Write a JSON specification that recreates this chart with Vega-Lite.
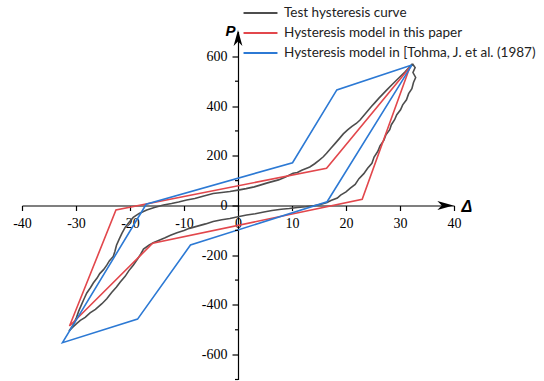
{
  "$schema": "https://vega.github.io/schema/vega-lite/v6.json",
  "width": 432,
  "height": 348,
  "autosize": {"type": "none"},
  "padding": {"left": 22, "top": 31.5, "right": 90, "bottom": 1.5},
  "background": "white",
  "config": {"view": {"stroke": null}},
  "datasets": {
    "curves": [
      {"s": "Test hysteresis curve", "i": 0, "d": 32.3, "p": 570},
      {"s": "Test hysteresis curve", "i": 1, "d": 32.8, "p": 555},
      {"s": "Test hysteresis curve", "i": 2, "d": 32.4, "p": 535},
      {"s": "Test hysteresis curve", "i": 3, "d": 32.9, "p": 515},
      {"s": "Test hysteresis curve", "i": 4, "d": 32.5, "p": 495},
      {"s": "Test hysteresis curve", "i": 5, "d": 32.2, "p": 470},
      {"s": "Test hysteresis curve", "i": 6, "d": 31.6, "p": 450},
      {"s": "Test hysteresis curve", "i": 7, "d": 31.2, "p": 425},
      {"s": "Test hysteresis curve", "i": 8, "d": 30.5, "p": 405},
      {"s": "Test hysteresis curve", "i": 9, "d": 30.1, "p": 385},
      {"s": "Test hysteresis curve", "i": 10, "d": 29.4, "p": 365},
      {"s": "Test hysteresis curve", "i": 11, "d": 29.0, "p": 345},
      {"s": "Test hysteresis curve", "i": 12, "d": 28.4, "p": 325},
      {"s": "Test hysteresis curve", "i": 13, "d": 28.1, "p": 305},
      {"s": "Test hysteresis curve", "i": 14, "d": 27.4, "p": 285},
      {"s": "Test hysteresis curve", "i": 15, "d": 27.0, "p": 262},
      {"s": "Test hysteresis curve", "i": 16, "d": 26.3, "p": 240},
      {"s": "Test hysteresis curve", "i": 17, "d": 25.9, "p": 218},
      {"s": "Test hysteresis curve", "i": 18, "d": 25.2, "p": 195},
      {"s": "Test hysteresis curve", "i": 19, "d": 24.8, "p": 170},
      {"s": "Test hysteresis curve", "i": 20, "d": 24.0, "p": 150},
      {"s": "Test hysteresis curve", "i": 21, "d": 23.3, "p": 128},
      {"s": "Test hysteresis curve", "i": 22, "d": 22.4, "p": 108},
      {"s": "Test hysteresis curve", "i": 23, "d": 21.7, "p": 85},
      {"s": "Test hysteresis curve", "i": 24, "d": 20.8, "p": 70},
      {"s": "Test hysteresis curve", "i": 25, "d": 20.0, "p": 55},
      {"s": "Test hysteresis curve", "i": 26, "d": 19.0, "p": 42},
      {"s": "Test hysteresis curve", "i": 27, "d": 18.4, "p": 30},
      {"s": "Test hysteresis curve", "i": 28, "d": 17.2, "p": 20},
      {"s": "Test hysteresis curve", "i": 29, "d": 16.5, "p": 12},
      {"s": "Test hysteresis curve", "i": 30, "d": 15.4, "p": 5},
      {"s": "Test hysteresis curve", "i": 31, "d": 14.0, "p": -1},
      {"s": "Test hysteresis curve", "i": 32, "d": 12.5, "p": -5},
      {"s": "Test hysteresis curve", "i": 33, "d": 11.0, "p": -8},
      {"s": "Test hysteresis curve", "i": 34, "d": 9.5, "p": -12},
      {"s": "Test hysteresis curve", "i": 35, "d": 8.0, "p": -15},
      {"s": "Test hysteresis curve", "i": 36, "d": 6.3, "p": -20},
      {"s": "Test hysteresis curve", "i": 37, "d": 4.8, "p": -26},
      {"s": "Test hysteresis curve", "i": 38, "d": 3.2, "p": -33},
      {"s": "Test hysteresis curve", "i": 39, "d": 1.6, "p": -38},
      {"s": "Test hysteresis curve", "i": 40, "d": 0, "p": -45},
      {"s": "Test hysteresis curve", "i": 41, "d": -1.5, "p": -52},
      {"s": "Test hysteresis curve", "i": 42, "d": -3.0, "p": -57},
      {"s": "Test hysteresis curve", "i": 43, "d": -4.6, "p": -64},
      {"s": "Test hysteresis curve", "i": 44, "d": -6.0, "p": -74},
      {"s": "Test hysteresis curve", "i": 45, "d": -7.5, "p": -83},
      {"s": "Test hysteresis curve", "i": 46, "d": -9.0, "p": -92},
      {"s": "Test hysteresis curve", "i": 47, "d": -10.0, "p": -101},
      {"s": "Test hysteresis curve", "i": 48, "d": -11.3, "p": -110},
      {"s": "Test hysteresis curve", "i": 49, "d": -12.5, "p": -120},
      {"s": "Test hysteresis curve", "i": 50, "d": -13.5, "p": -130},
      {"s": "Test hysteresis curve", "i": 51, "d": -14.6, "p": -140},
      {"s": "Test hysteresis curve", "i": 52, "d": -15.7, "p": -150},
      {"s": "Test hysteresis curve", "i": 53, "d": -16.5, "p": -160},
      {"s": "Test hysteresis curve", "i": 54, "d": -17.5, "p": -175},
      {"s": "Test hysteresis curve", "i": 55, "d": -18.0, "p": -195},
      {"s": "Test hysteresis curve", "i": 56, "d": -18.6, "p": -215},
      {"s": "Test hysteresis curve", "i": 57, "d": -19.4, "p": -240},
      {"s": "Test hysteresis curve", "i": 58, "d": -20.2, "p": -262},
      {"s": "Test hysteresis curve", "i": 59, "d": -20.9, "p": -285},
      {"s": "Test hysteresis curve", "i": 60, "d": -21.8, "p": -308},
      {"s": "Test hysteresis curve", "i": 61, "d": -22.5, "p": -328},
      {"s": "Test hysteresis curve", "i": 62, "d": -23.4, "p": -350},
      {"s": "Test hysteresis curve", "i": 63, "d": -24.3, "p": -375},
      {"s": "Test hysteresis curve", "i": 64, "d": -25.2, "p": -395},
      {"s": "Test hysteresis curve", "i": 65, "d": -26.4, "p": -418},
      {"s": "Test hysteresis curve", "i": 66, "d": -27.4, "p": -432},
      {"s": "Test hysteresis curve", "i": 67, "d": -28.3, "p": -450},
      {"s": "Test hysteresis curve", "i": 68, "d": -29.2, "p": -462},
      {"s": "Test hysteresis curve", "i": 69, "d": -29.9, "p": -475},
      {"s": "Test hysteresis curve", "i": 70, "d": -30.6, "p": -490},
      {"s": "Test hysteresis curve", "i": 71, "d": -31.3, "p": -505},
      {"s": "Test hysteresis curve", "i": 72, "d": -30.8, "p": -490},
      {"s": "Test hysteresis curve", "i": 73, "d": -30.3, "p": -470},
      {"s": "Test hysteresis curve", "i": 74, "d": -29.9, "p": -450},
      {"s": "Test hysteresis curve", "i": 75, "d": -29.5, "p": -425},
      {"s": "Test hysteresis curve", "i": 76, "d": -29.0, "p": -400},
      {"s": "Test hysteresis curve", "i": 77, "d": -28.5, "p": -375},
      {"s": "Test hysteresis curve", "i": 78, "d": -28.0, "p": -352},
      {"s": "Test hysteresis curve", "i": 79, "d": -27.3, "p": -330},
      {"s": "Test hysteresis curve", "i": 80, "d": -26.8, "p": -312},
      {"s": "Test hysteresis curve", "i": 81, "d": -26.1, "p": -292},
      {"s": "Test hysteresis curve", "i": 82, "d": -25.6, "p": -274},
      {"s": "Test hysteresis curve", "i": 83, "d": -24.9, "p": -258},
      {"s": "Test hysteresis curve", "i": 84, "d": -24.3, "p": -240},
      {"s": "Test hysteresis curve", "i": 85, "d": -23.8, "p": -222},
      {"s": "Test hysteresis curve", "i": 86, "d": -23.1, "p": -205},
      {"s": "Test hysteresis curve", "i": 87, "d": -22.8, "p": -185},
      {"s": "Test hysteresis curve", "i": 88, "d": -22.5, "p": -160},
      {"s": "Test hysteresis curve", "i": 89, "d": -22.0, "p": -135},
      {"s": "Test hysteresis curve", "i": 90, "d": -21.5, "p": -112},
      {"s": "Test hysteresis curve", "i": 91, "d": -20.9, "p": -88},
      {"s": "Test hysteresis curve", "i": 92, "d": -20.2, "p": -68},
      {"s": "Test hysteresis curve", "i": 93, "d": -19.4, "p": -48},
      {"s": "Test hysteresis curve", "i": 94, "d": -18.3, "p": -32},
      {"s": "Test hysteresis curve", "i": 95, "d": -16.9, "p": -18},
      {"s": "Test hysteresis curve", "i": 96, "d": -15.5, "p": -8},
      {"s": "Test hysteresis curve", "i": 97, "d": -13.8, "p": 2},
      {"s": "Test hysteresis curve", "i": 98, "d": -12.3, "p": 8},
      {"s": "Test hysteresis curve", "i": 99, "d": -11.0, "p": 14},
      {"s": "Test hysteresis curve", "i": 100, "d": -9.5, "p": 22},
      {"s": "Test hysteresis curve", "i": 101, "d": -8.0, "p": 28},
      {"s": "Test hysteresis curve", "i": 102, "d": -6.5, "p": 37},
      {"s": "Test hysteresis curve", "i": 103, "d": -4.6, "p": 48},
      {"s": "Test hysteresis curve", "i": 104, "d": -3.0, "p": 52},
      {"s": "Test hysteresis curve", "i": 105, "d": -1.5, "p": 56},
      {"s": "Test hysteresis curve", "i": 106, "d": 0, "p": 62},
      {"s": "Test hysteresis curve", "i": 107, "d": 1.5, "p": 68},
      {"s": "Test hysteresis curve", "i": 108, "d": 3.0, "p": 75},
      {"s": "Test hysteresis curve", "i": 109, "d": 4.1, "p": 82},
      {"s": "Test hysteresis curve", "i": 110, "d": 5.3, "p": 90},
      {"s": "Test hysteresis curve", "i": 111, "d": 6.3, "p": 96},
      {"s": "Test hysteresis curve", "i": 112, "d": 7.5, "p": 103},
      {"s": "Test hysteresis curve", "i": 113, "d": 8.8, "p": 115},
      {"s": "Test hysteresis curve", "i": 114, "d": 10.2, "p": 130},
      {"s": "Test hysteresis curve", "i": 115, "d": 11.0, "p": 133},
      {"s": "Test hysteresis curve", "i": 116, "d": 11.8, "p": 142},
      {"s": "Test hysteresis curve", "i": 117, "d": 13.3, "p": 155},
      {"s": "Test hysteresis curve", "i": 118, "d": 14.2, "p": 168},
      {"s": "Test hysteresis curve", "i": 119, "d": 15.0, "p": 182},
      {"s": "Test hysteresis curve", "i": 120, "d": 15.8, "p": 196},
      {"s": "Test hysteresis curve", "i": 121, "d": 16.4, "p": 210},
      {"s": "Test hysteresis curve", "i": 122, "d": 17.2, "p": 230},
      {"s": "Test hysteresis curve", "i": 123, "d": 18.0, "p": 250},
      {"s": "Test hysteresis curve", "i": 124, "d": 18.8, "p": 270},
      {"s": "Test hysteresis curve", "i": 125, "d": 19.5, "p": 288},
      {"s": "Test hysteresis curve", "i": 126, "d": 20.3, "p": 304},
      {"s": "Test hysteresis curve", "i": 127, "d": 21.1, "p": 318},
      {"s": "Test hysteresis curve", "i": 128, "d": 21.9, "p": 330},
      {"s": "Test hysteresis curve", "i": 129, "d": 22.6, "p": 344},
      {"s": "Test hysteresis curve", "i": 130, "d": 23.3, "p": 362},
      {"s": "Test hysteresis curve", "i": 131, "d": 24.0, "p": 380},
      {"s": "Test hysteresis curve", "i": 132, "d": 24.7, "p": 398},
      {"s": "Test hysteresis curve", "i": 133, "d": 25.4, "p": 415},
      {"s": "Test hysteresis curve", "i": 134, "d": 26.1, "p": 432},
      {"s": "Test hysteresis curve", "i": 135, "d": 26.9, "p": 450},
      {"s": "Test hysteresis curve", "i": 136, "d": 27.7, "p": 468},
      {"s": "Test hysteresis curve", "i": 137, "d": 28.5, "p": 486},
      {"s": "Test hysteresis curve", "i": 138, "d": 29.3, "p": 503},
      {"s": "Test hysteresis curve", "i": 139, "d": 30.1, "p": 520},
      {"s": "Test hysteresis curve", "i": 140, "d": 30.9, "p": 537},
      {"s": "Test hysteresis curve", "i": 141, "d": 31.6, "p": 553},
      {"s": "Test hysteresis curve", "i": 142, "d": 32.3, "p": 570},
      {"s": "Hysteresis model in this paper", "i": 0, "d": 31.8, "p": 555},
      {"s": "Hysteresis model in this paper", "i": 1, "d": 23.0, "p": 25},
      {"s": "Hysteresis model in this paper", "i": 2, "d": -15.8, "p": -152},
      {"s": "Hysteresis model in this paper", "i": 3, "d": -31.2, "p": -485},
      {"s": "Hysteresis model in this paper", "i": 4, "d": -22.6, "p": -18},
      {"s": "Hysteresis model in this paper", "i": 5, "d": 16.4, "p": 150},
      {"s": "Hysteresis model in this paper", "i": 6, "d": 31.8, "p": 555},
      {"s": "Hysteresis model in [Tohma, J. et al. (1987)", "i": 0, "d": 32.2, "p": 565},
      {"s": "Hysteresis model in [Tohma, J. et al. (1987)", "i": 1, "d": 16.5, "p": 15},
      {"s": "Hysteresis model in [Tohma, J. et al. (1987)", "i": 2, "d": -8.8, "p": -159},
      {"s": "Hysteresis model in [Tohma, J. et al. (1987)", "i": 3, "d": -18.6, "p": -457},
      {"s": "Hysteresis model in [Tohma, J. et al. (1987)", "i": 4, "d": -32.5, "p": -552},
      {"s": "Hysteresis model in [Tohma, J. et al. (1987)", "i": 5, "d": -17.0, "p": 5},
      {"s": "Hysteresis model in [Tohma, J. et al. (1987)", "i": 6, "d": 10.1, "p": 172},
      {"s": "Hysteresis model in [Tohma, J. et al. (1987)", "i": 7, "d": 18.3, "p": 465},
      {"s": "Hysteresis model in [Tohma, J. et al. (1987)", "i": 8, "d": 32.2, "p": 565}
    ]
  },
  "layer": [
    {
      "data": {"name": "curves"},
      "mark": {"type": "line", "strokeWidth": 1.6, "clip": false},
      "encoding": {
        "x": {
          "field": "d", "type": "quantitative",
          "scale": {"domain": [-40, 40], "nice": false, "zero": false},
          "axis": {
            "orient": "bottom", "offset": -174,
            "values": [-40, -35, -30, -25, -20, -15, -10, -5, 0, 5, 10, 15, 20, 25, 30, 35, 40],
            "labelExpr": "indexof([-40,-30,-20,-10,0,10,20,30,40], datum.value) >= 0 ? toString(datum.value) : ''",
            "tickSize": {"condition": {"test": "indexof([-40,-30,-20,-10,0,10,20,30,40], datum.value) < 0", "value": 3}, "value": 5},
            "grid": false, "domainColor": "black", "tickColor": "black", "domainWidth": 1.2, "tickWidth": 1.2,
            "labelFont": "Liberation Serif", "labelFontSize": 14, "labelColor": "black",
            "labelPadding": 5.5, "labelFlush": false, "labelOverlap": false,
            "title": "Δ", "titleFont": "Liberation Sans", "titleFontStyle": "italic", "titleFontWeight": "bold",
            "titleFontSize": 16, "titleColor": "black", "titleX": 439, "titleY": 1,
            "titleAlign": "left", "titleBaseline": "middle", "titleAngle": 0
          }
        },
        "y": {
          "field": "p", "type": "quantitative",
          "scale": {"domain": [-700, 700], "nice": false, "zero": false},
          "axis": {
            "orient": "left", "offset": -216,
            "values": [-600, -400, -200, 0, 200, 400, 600],
            "labelExpr": "toString(datum.value)",
            "tickSize": 6,
            "grid": false, "domainColor": "black", "tickColor": "black", "domainWidth": 1.2, "tickWidth": 1.2,
            "labelFont": "Liberation Serif", "labelFontSize": 14, "labelColor": "black",
            "labelPadding": 5, "labelFlush": false, "labelOverlap": false,
            "title": "P", "titleFont": "Liberation Sans", "titleFontStyle": "italic", "titleFontWeight": "bold",
            "titleFontSize": 15, "titleColor": "black", "titleX": -8, "titleY": -1.5,
            "titleAlign": "center", "titleBaseline": "middle", "titleAngle": 0
          }
        },
        "color": {
          "field": "s", "type": "nominal",
          "scale": {
            "domain": ["Test hysteresis curve", "Hysteresis model in this paper", "Hysteresis model in [Tohma, J. et al. (1987)"],
            "range": ["#4d4d4d", "#e2474c", "#2c79d4"]
          },
          "legend": {
            "orient": "none", "legendX": 231.75, "legendY": -25.3, "title": null,
            "symbolType": "M -4 0 L 4 0", "symbolSize": 72, "symbolStrokeWidth": 2,
            "labelFont": "Lato", "labelFontSize": 13.5, "labelColor": "#222222",
            "labelLimit": 400, "labelOffset": 16.75, "rowPadding": 5, "padding": 0
          }
        },
        "order": {"field": "i", "type": "quantitative"}
      }
    },
    {
      "data": {"values": [{"d": 0, "p": -700}, {"d": 0, "p": -500}, {"d": 0, "p": -300}, {"d": 0, "p": -100}, {"d": 0, "p": 100}, {"d": 0, "p": 300}, {"d": 0, "p": 500}]},
      "mark": {"type": "tick", "orient": "horizontal", "size": 3, "thickness": 1.2, "color": "black", "xOffset": -1.5, "opacity": 1},
      "encoding": {"x": {"field": "d", "type": "quantitative"}, "y": {"field": "p", "type": "quantitative"}}
    },
    {
      "data": {"values": [{"d": 38.4, "p": 0}]},
      "mark": {"type": "point", "shape": "M 1 0 L -1 -0.55 L -0.45 0 L -1 0.55 Z", "size": 256, "filled": true, "color": "black", "opacity": 1},
      "encoding": {"x": {"field": "d", "type": "quantitative"}, "y": {"field": "p", "type": "quantitative"}}
    },
    {
      "data": {"values": [{"d": 0, "p": 674}]},
      "mark": {"type": "point", "shape": "M 0 -1 L -0.55 1 L 0 0.45 L 0.55 1 Z", "size": 256, "filled": true, "color": "black", "opacity": 1},
      "encoding": {"x": {"field": "d", "type": "quantitative"}, "y": {"field": "p", "type": "quantitative"}}
    }
  ]
}
